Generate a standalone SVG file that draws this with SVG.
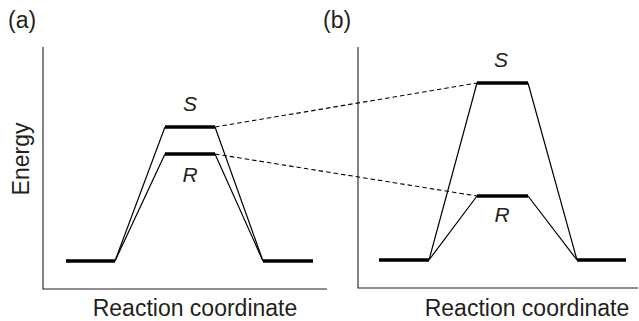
<svg xmlns="http://www.w3.org/2000/svg" width="639" height="321" viewBox="0 0 639 321">
<style>
text{font-family:"Liberation Sans",Arial,sans-serif;fill:#231f20}
.lab{font-size:23px}
.it{font-size:21px;font-style:italic;text-anchor:middle}
.axis{stroke:#231f20;stroke-width:1.1;fill:none}
.bar{stroke:#000;stroke-width:3.6;fill:none}
.thin{stroke:#000;stroke-width:1.2;fill:none;stroke-linejoin:round}
.dash{stroke:#000;stroke-width:1.1;fill:none;stroke-dasharray:4.5 3}
</style>
<rect width="639" height="321" fill="#fff"/>
<g id="panel-a">
  <text class="lab" x="8" y="28">(a)</text>
  <path class="axis" d="M43,47 V289 H327"/>
  <text class="lab" transform="translate(29,159) rotate(-90)" text-anchor="middle">Energy</text>
  <text class="lab" x="195" y="315.5" text-anchor="middle">Reaction coordinate</text>
  <g id="a-profiles">
    <path class="thin" d="M115,261 L165,127 M215,127 L263,261"/>
    <path class="thin" d="M115,261 L165,154 M215,154 L263,261"/>
  </g>
  <g id="a-bars">
    <path class="bar" d="M66,261 H115 M263,261 H313"/>
    <path class="bar" d="M165,127 H215"/>
    <path class="bar" d="M165,154 H215"/>
  </g>
  <text class="it" x="190" y="111">S</text>
  <text class="it" x="190" y="182">R</text>
</g>
<g id="panel-b">
  <text class="lab" x="323" y="28">(b)</text>
  <path class="axis" d="M358,47 V288 H638"/>
  <text class="lab" x="527" y="315.5" text-anchor="middle">Reaction coordinate</text>
  <g id="b-profiles">
    <path class="thin" d="M429,260 L477,83 M528,83 L577,260"/>
    <path class="thin" d="M429,260 L477,196 M528,196 L577,260"/>
  </g>
  <g id="b-bars">
    <path class="bar" d="M379,260 H429 M577,260 H626"/>
    <path class="bar" d="M477,83 H528"/>
    <path class="bar" d="M477,196 H528"/>
  </g>
  <text class="it" x="501" y="67">S</text>
  <text class="it" x="502" y="222">R</text>
</g>
<g id="connectors">
  <path class="dash" d="M215,127 L477,83"/>
  <path class="dash" d="M215,154 L477,196"/>
</g>
</svg>
